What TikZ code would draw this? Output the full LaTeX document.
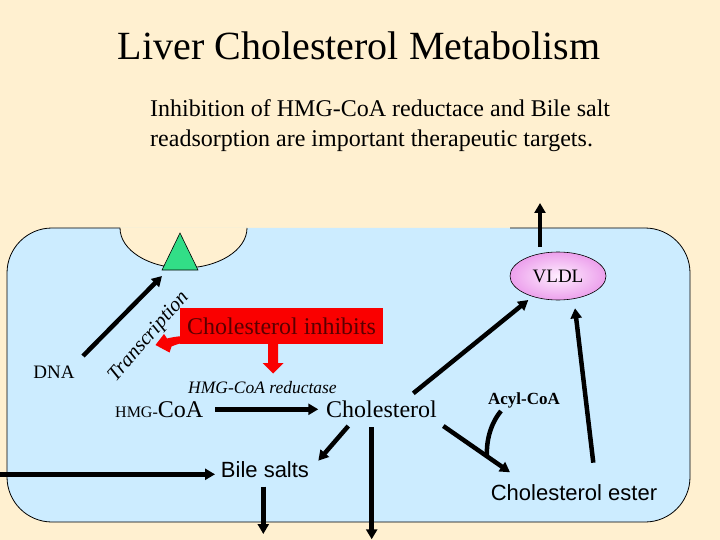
\documentclass[tikz,border=0pt]{standalone}
\usepackage{fontspec}
\setmainfont{Liberation Serif}
\setsansfont{Liberation Sans}
\usetikzlibrary{arrows.meta,shapes.geometric}
\definecolor{cream}{RGB}{255,240,208}
\definecolor{cellblue}{RGB}{204,236,255}
\definecolor{trigreen}{RGB}{50,222,135}
\definecolor{boxred}{RGB}{250,0,0}
\definecolor{inhibtext}{RGB}{90,0,0}
\definecolor{vldlin}{RGB}{255,238,255}
\definecolor{vldlout}{RGB}{236,160,236}
\newcommand\mysz[1]{\fontsize{#1}{#1}\selectfont}
\begin{document}
\begin{tikzpicture}[x=1pt,y=-1pt,
  flow/.style={line width=4.5pt,-{Triangle[length=10pt,width=11pt]}},
  plainline/.style={line width=4.5pt},
  txt/.style={inner sep=0pt,anchor=base},
  redarrow/.style={fill=boxred},
  border/.style={line width=0.8pt,draw=black}]
\useasboundingbox (0,0) rectangle (720,540);
\fill[cream] (0,0) rectangle (720,540);
% cell
\fill[cellblue,rounded corners=45pt] (7,228) rectangle (690,522);
\fill[cream] (120,228) .. controls (120,250) and (148.5,268) .. (183.5,268)
   .. controls (218.5,268) and (247,250) .. (247,228) -- cycle;
\draw[border] (120,228) .. controls (120,250) and (148.5,268) .. (183.5,268)
   .. controls (218.5,268) and (247,250) .. (247,228);
\draw[border,rounded corners=45pt] (120,228) -- (7,228) -- (7,522) -- (690,522) -- (690,228) -- (510,228);
% receptor
\draw[fill=trigreen,line width=0.6pt] (180,233) -- (198,270) -- (162,270) -- cycle;
% texts
\node[txt,font=\mysz{40}] (title) at (359,60) {Liver Cholesterol Metabolism};
\node[txt,anchor=base west,font=\mysz{24}] (sub1) at (150,117) {Inhibition of HMG-CoA reductace and Bile salt};
\node[txt,anchor=base west,font=\mysz{24}] (sub2) at (150,147) {readsorption are important therapeutic targets.};
\node[txt,font=\mysz{19}] (dna) at (54,378) {DNA};
\node[inner sep=0pt,rotate=49,font=\itshape\mysz{20.5}] (transc) at (149,337) {Transcription};
\node[fill=boxred,minimum width=203pt,minimum height=36pt,inner sep=0pt,
      text=inhibtext,font=\mysz{24}] (inhib) at (281.5,326) {Cholesterol inhibits};
\node[txt,anchor=base west,font=\itshape\mysz{17.5}] (reduct) at (188,393) {HMG-CoA reductase};
\node[txt,anchor=base west] (hmg) at (115,417) {{\mysz{16}HMG-}{\mysz{24}CoA}};
\node[txt,font=\mysz{24}] (chol) at (381.5,417) {Cholesterol};
\node[txt,font=\sffamily\mysz{22}] (bile) at (265,477) {Bile salts};
\node[txt,font=\sffamily\mysz{22}] (ester) at (574,500) {Cholesterol ester};
\node[txt,font=\bfseries\mysz{17}] (acyl) at (524,404) {Acyl-CoA};
\node[ellipse,draw,line width=0.6pt,minimum width=96pt,minimum height=48pt,inner sep=0pt,
      shading=radial,inner color=vldlin,outer color=vldlout,font=\mysz{19}] (vldl) at (558,276) {VLDL};
% red arrows
\fill[redarrow] (268,343) -- (278,343) -- (278,363) -- (283.5,363) -- (273,373.5) -- (262.5,363) -- (268,363) -- cycle;
\fill[redarrow] (183,336) .. controls (176,336.5) and (171,337.5) .. (167,338.5) -- (164,334) -- (155.5,345)
   -- (169.5,352.5) -- (171.5,346.5) .. controls (175,345) and (179,343.5) .. (183,343) -- cycle;
% coordinates for connector ends
\coordinate (dnaS) at (83,356);
\coordinate (rcpt) at (162,276);
\coordinate (hmgE) at (215,409.3);
\coordinate (cholW) at (318.3,409.3);
\coordinate (cholSW) at (348.3,426);
\coordinate (bileNE) at (318.3,460.7);
\coordinate (cholS) at (371.7,427.3);
\coordinate (outS) at (371.7,539.3);
\coordinate (inW) at (0,474.3);
\coordinate (bileW) at (215,474.3);
\coordinate (bileS) at (263.3,486.7);
\coordinate (bileOut) at (263.3,534);
\coordinate (cholNE) at (413.3,393.3);
\coordinate (vldlSW) at (528.3,300);
\coordinate (cholSE) at (443.3,426);
\coordinate (esterNW) at (510,472.3);
\coordinate (esterN) at (593.3,462.7);
\coordinate (vldlS) at (575,308.3);
\coordinate (vldlN) at (540,247);
\coordinate (vldlOut) at (540,203);
\coordinate (acylS) at (501,411);
\coordinate (acylJoin) at (487,457);
% black arrows
\draw[flow] (dnaS) -- (rcpt);
\draw[flow] (hmgE) -- (cholW);
\draw[flow] (cholSW) -- (bileNE);
\draw[flow] (cholS) -- (outS);
\draw[flow] (inW) -- (bileW);
\draw[flow] (bileS) -- (bileOut);
\draw[flow] (cholNE) -- (vldlSW);
\draw[flow] (cholSE) -- (esterNW);
\draw[flow] (esterN) -- (vldlS);
\draw[flow] (vldlN) -- (vldlOut);
\draw[plainline] (acylS) .. controls (491,423) and (486,440) .. (acylJoin);
\end{tikzpicture}
\end{document}
